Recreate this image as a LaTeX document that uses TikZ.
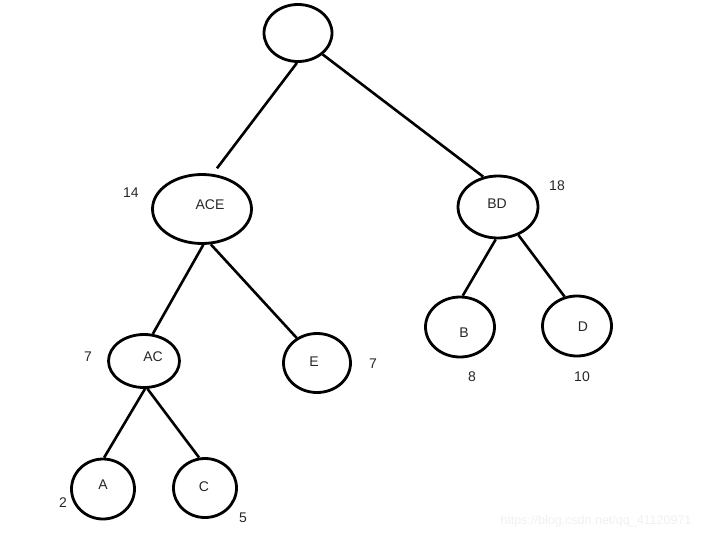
\documentclass[tikz,border=0pt]{standalone}
\usepackage{fontspec}
\setmainfont{Liberation Sans}
\usetikzlibrary{positioning, shapes.geometric}

\begin{document}
\begin{tikzpicture}[x=1pt, y=-1pt,
    tnode/.style={ellipse, draw, line width=2.8pt, inner sep=0pt},
    wnum/.style={font=\fontsize{14}{16}\selectfont, text=black!85},
    edge/.style={line width=2.6pt},
    every label/.style={font=\fontsize{14}{16}\selectfont, text=black!85}]
    \useasboundingbox (0,0) rectangle (725,541);

    % Draw tree nodes
    \node[tnode, minimum width=68pt, minimum height=57pt] (root) at (298,33) {};
    \node[tnode, minimum width=99pt, minimum height=69pt, label={[xshift=8pt,yshift=4pt]center:ACE}] (ace) at (202,209) {};
    \node[tnode, minimum width=80pt, minimum height=62pt, label={[xshift=-1pt,yshift=3pt]center:BD}] (bd) at (498,207) {};
    \node[tnode, minimum width=71pt, minimum height=53pt, label={[xshift=9pt,yshift=4pt]center:AC}] (ac) at (144,361) {};
    \node[tnode, minimum width=67pt, minimum height=59pt, label={[xshift=-3pt,yshift=1pt]center:E}] (e) at (317,363) {};
    \node[tnode, minimum width=69pt, minimum height=60pt, label={[xshift=4pt,yshift=-6pt]center:B}] (b) at (460,327) {};
    \node[tnode, minimum width=69pt, minimum height=60pt, label={[xshift=6pt,yshift=-1pt]center:D}] (d) at (577,326) {};
    \node[tnode, minimum width=63pt, minimum height=60pt, label={[xshift=0pt,yshift=4pt]center:A}] (a) at (103,489) {};
    \node[tnode, minimum width=63pt, minimum height=59pt, label={[xshift=-1pt,yshift=1pt]center:C}] (c) at (205,488) {};

    % Draw weights
    \node[wnum] (wace) at (131,193) {14};
    \node[wnum] (wbd) at (557,186) {18};
    \node[wnum] (wac) at (88,357) {7};
    \node[wnum] (we) at (373,364) {7};
    \node[wnum] (wb) at (472,377) {8};
    \node[wnum] (wd) at (582,377) {10};
    \node[wnum] (wa) at (63,503) {2};
    \node[wnum] (wc) at (243,518) {5};

    % Draw edges
    \draw[edge, shorten >=7pt] (root.268) -- (ace.73);
    \draw[edge] (root.319) -- (bd.116);
    \draw[edge] (ace.272) -- (ac.72);
    \draw[edge] (ace.284) -- (e.129);
    \draw[edge] (bd.266) -- (b.85);
    \draw[edge] (bd.306) -- (d.113);
    \draw[edge] (ac.272) -- (a.88);
    \draw[edge] (ac.277) -- (c.101);

    % Watermark
    \node[font=\fontsize{12.5}{15}\selectfont, text=black!6] (mark) at (596,521) {https://blog.csdn.net/qq\_41120971};
\end{tikzpicture}
\end{document}
